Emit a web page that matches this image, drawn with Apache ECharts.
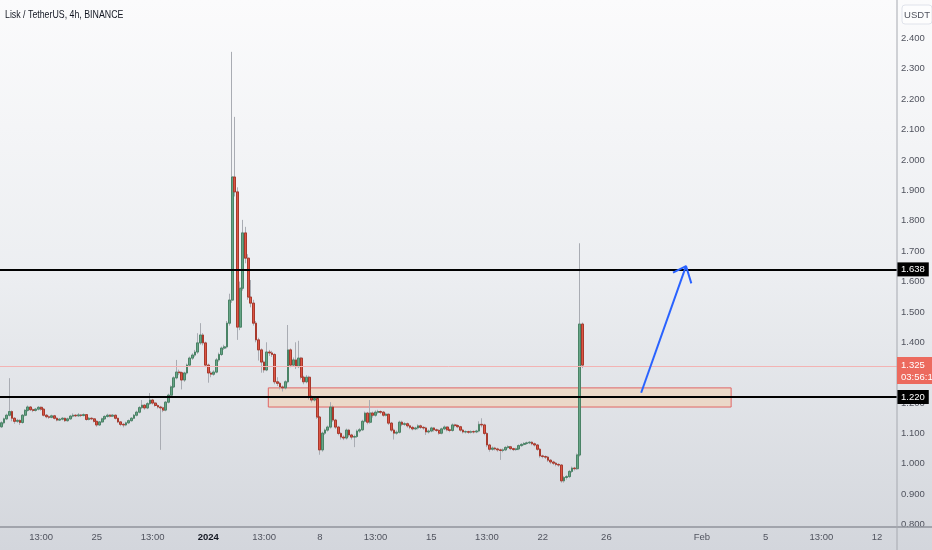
<!DOCTYPE html>
<html><head><meta charset="utf-8">
<script src="https://cdn.jsdelivr.net/npm/echarts@6/dist/echarts.min.js"></script>
<style>html,body{margin:0;padding:0;background:#fff;}#c{width:932px;height:550px;}</style>
</head><body><div id="c"></div>
<script>
// ---------- data ----------
const title = 'Lisk / TetherUS, 4h, BINANCE';
const startTimeUTC = Date.UTC(2023, 11, 19, 0, 0);
const slotCount = 338;            // 4h slots shown on the time axis (incl. empty future)
// [open, close, low, high]
const candles = [
[1.122,1.135,1.118,1.140],[1.135,1.148,1.130,1.152],[1.148,1.160,1.144,1.165],[1.160,1.172,1.156,1.282],
[1.172,1.150,1.140,1.176],[1.150,1.140,1.132,1.154],[1.140,1.143,1.135,1.148],[1.143,1.136,1.128,1.146],
[1.136,1.160,1.132,1.164],[1.160,1.176,1.156,1.180],[1.176,1.187,1.172,1.192],[1.187,1.178,1.174,1.190],
[1.178,1.176,1.170,1.182],[1.176,1.180,1.172,1.184],[1.180,1.186,1.176,1.190],[1.186,1.180,1.175,1.189],
[1.180,1.160,1.156,1.183],[1.160,1.155,1.150,1.164],[1.155,1.153,1.148,1.159],[1.153,1.158,1.150,1.162],
[1.158,1.150,1.146,1.161],[1.150,1.144,1.140,1.153],[1.144,1.147,1.141,1.151],[1.147,1.150,1.143,1.154],
[1.150,1.142,1.138,1.152],[1.142,1.148,1.139,1.152],[1.148,1.157,1.145,1.161],[1.157,1.160,1.153,1.166],
[1.160,1.158,1.154,1.163],[1.158,1.161,1.155,1.167],[1.161,1.159,1.154,1.164],[1.159,1.162,1.156,1.166],
[1.162,1.146,1.142,1.164],[1.146,1.150,1.143,1.154],[1.150,1.148,1.144,1.153],[1.148,1.140,1.136,1.151],
[1.140,1.128,1.122,1.142],[1.128,1.138,1.125,1.141],[1.138,1.148,1.135,1.152],[1.148,1.156,1.145,1.160],
[1.156,1.160,1.152,1.165],[1.160,1.157,1.153,1.163],[1.157,1.160,1.154,1.164],[1.160,1.150,1.146,1.162],
[1.150,1.138,1.134,1.152],[1.138,1.130,1.124,1.140],[1.130,1.128,1.120,1.134],[1.128,1.135,1.124,1.139],
[1.135,1.142,1.131,1.146],[1.142,1.150,1.139,1.154],[1.150,1.160,1.147,1.164],[1.160,1.170,1.156,1.175],
[1.170,1.185,1.166,1.190],[1.185,1.193,1.180,1.210],[1.193,1.184,1.178,1.196],[1.184,1.198,1.180,1.203],
[1.198,1.210,1.194,1.233],[1.210,1.200,1.195,1.214],[1.200,1.192,1.188,1.204],[1.192,1.187,1.182,1.196],
[1.187,1.184,1.046,1.191],[1.184,1.177,1.170,1.188],[1.177,1.203,1.173,1.207],[1.203,1.226,1.199,1.231],
[1.226,1.253,1.222,1.258],[1.253,1.283,1.249,1.288],[1.283,1.302,1.278,1.342],[1.302,1.300,1.292,1.310],
[1.300,1.276,1.245,1.304],[1.276,1.299,1.270,1.303],[1.299,1.325,1.294,1.330],[1.325,1.348,1.320,1.353],
[1.348,1.358,1.342,1.364],[1.358,1.368,1.352,1.375],[1.368,1.398,1.362,1.430],[1.398,1.424,1.392,1.463],
[1.424,1.398,1.390,1.430],[1.398,1.325,1.318,1.402],[1.325,1.299,1.267,1.330],[1.299,1.295,1.285,1.305],
[1.295,1.302,1.290,1.308],[1.302,1.342,1.298,1.348],[1.342,1.360,1.336,1.366],[1.360,1.381,1.355,1.386],
[1.381,1.385,1.375,1.392],[1.385,1.463,1.380,1.470],[1.463,1.539,1.455,1.560],[1.539,1.944,1.530,2.356],
[1.944,1.895,1.880,2.142],[1.895,1.450,1.408,1.910],[1.450,1.578,1.440,1.600],[1.578,1.760,1.570,1.803],
[1.760,1.677,1.660,1.780],[1.677,1.549,1.540,1.690],[1.549,1.529,1.515,1.605],[1.529,1.463,1.455,1.540],
[1.463,1.408,1.400,1.470],[1.408,1.375,1.340,1.415],[1.375,1.335,1.300,1.380],[1.335,1.309,1.300,1.340],
[1.309,1.368,1.305,1.400],[1.368,1.365,1.355,1.375],[1.365,1.360,1.352,1.372],[1.360,1.270,1.262,1.364],
[1.270,1.265,1.256,1.285],[1.265,1.253,1.245,1.270],[1.253,1.250,1.238,1.258],[1.250,1.270,1.245,1.275],
[1.270,1.375,1.265,1.457],[1.375,1.325,1.318,1.380],[1.325,1.342,1.320,1.350],[1.342,1.320,1.312,1.400],
[1.320,1.348,1.315,1.405],[1.348,1.285,1.278,1.352],[1.285,1.270,1.262,1.290],[1.270,1.285,1.265,1.292],
[1.285,1.220,1.212,1.290],[1.220,1.210,1.202,1.226],[1.210,1.215,1.205,1.220],[1.215,1.154,1.148,1.218],
[1.154,1.046,1.030,1.158],[1.046,1.101,1.040,1.106],[1.101,1.111,1.095,1.116],[1.111,1.121,1.106,1.126],
[1.121,1.187,1.116,1.203],[1.187,1.144,1.138,1.192],[1.144,1.121,1.115,1.148],[1.121,1.100,1.094,1.125],
[1.100,1.088,1.080,1.104],[1.088,1.085,1.078,1.094],[1.085,1.111,1.080,1.116],[1.111,1.095,1.088,1.115],
[1.095,1.088,1.080,1.099],[1.088,1.090,1.055,1.096],[1.090,1.108,1.085,1.113],[1.108,1.112,1.102,1.118],
[1.112,1.140,1.108,1.145],[1.140,1.167,1.136,1.172],[1.167,1.137,1.130,1.171],[1.137,1.167,1.132,1.210],
[1.167,1.160,1.152,1.172],[1.160,1.170,1.155,1.176],[1.170,1.172,1.165,1.178],[1.172,1.170,1.164,1.176],
[1.170,1.160,1.155,1.174],[1.160,1.163,1.156,1.168],[1.163,1.134,1.128,1.166],[1.134,1.111,1.105,1.138],
[1.111,1.101,1.080,1.116],[1.101,1.104,1.096,1.110],[1.104,1.137,1.100,1.142],[1.137,1.130,1.124,1.142],
[1.130,1.132,1.125,1.137],[1.132,1.125,1.119,1.136],[1.125,1.120,1.114,1.129],[1.120,1.115,1.110,1.125],
[1.115,1.118,1.111,1.122],[1.118,1.125,1.113,1.130],[1.125,1.120,1.115,1.129],[1.120,1.118,1.112,1.124],
[1.118,1.105,1.095,1.122],[1.105,1.108,1.100,1.113],[1.108,1.118,1.104,1.122],[1.118,1.112,1.106,1.121],
[1.112,1.110,1.105,1.116],[1.110,1.101,1.096,1.114],[1.101,1.115,1.097,1.119],[1.115,1.121,1.111,1.126],
[1.121,1.112,1.107,1.124],[1.112,1.110,1.104,1.116],[1.110,1.128,1.106,1.133],[1.128,1.126,1.120,1.132],
[1.126,1.122,1.117,1.130],[1.122,1.111,1.106,1.125],[1.111,1.105,1.100,1.115],[1.105,1.106,1.100,1.110],
[1.106,1.104,1.099,1.109],[1.104,1.106,1.100,1.110],[1.106,1.105,1.100,1.110],[1.105,1.108,1.101,1.112],
[1.108,1.130,1.104,1.140],[1.130,1.128,1.120,1.150],[1.128,1.100,1.094,1.132],[1.100,1.062,1.055,1.104],
[1.062,1.048,1.040,1.066],[1.048,1.052,1.043,1.057],[1.052,1.049,1.044,1.056],[1.049,1.046,1.040,1.053],
[1.046,1.044,1.013,1.050],[1.044,1.046,1.038,1.051],[1.046,1.054,1.042,1.058],[1.054,1.056,1.050,1.061],
[1.056,1.050,1.045,1.059],[1.050,1.047,1.042,1.053],[1.047,1.049,1.043,1.053],[1.049,1.060,1.045,1.064],
[1.060,1.064,1.056,1.068],[1.064,1.067,1.060,1.071],[1.067,1.069,1.063,1.073],[1.069,1.071,1.065,1.075],
[1.071,1.066,1.061,1.074],[1.066,1.062,1.057,1.070],[1.062,1.048,1.043,1.065],[1.048,1.026,1.020,1.052],
[1.026,1.024,1.018,1.030],[1.024,1.022,1.016,1.028],[1.022,1.012,1.006,1.026],[1.012,1.006,0.999,1.016],
[1.006,1.002,0.996,1.010],[1.002,0.998,0.992,1.006],[0.998,0.996,0.990,1.002],[0.996,0.944,0.938,0.999],
[0.944,0.955,0.938,0.960],[0.955,0.958,0.948,0.963],[0.958,0.975,0.953,0.980],[0.975,0.986,0.970,0.991],
[0.986,0.984,0.978,0.990],[0.984,1.029,0.980,1.034],[1.029,1.460,1.024,1.726],[1.460,1.325,1.315,1.465]
];
const timeTickIndex = [15, 36, 57, 78, 99, 120, 141, 162, 183, 204, 228, 264, 288, 309, 330];
const timeTickText  = ['13:00','25','13:00','2024','13:00','8','13:00','15','13:00','22','26','Feb','5','13:00','12'];
const priceMin = 0.8, priceMax = 2.5, priceStep = 0.1;
const levelLines = [1.638, 1.220];
const lastPrice = 1.325;
const lastPriceCountdown = '03:56:19';
const zoneIndex = [100.6, 275];
const zonePrice = [1.187, 1.250];
const arrowIndex = [241.1, 258.0];
const arrowPrice = [1.234, 1.651];
const arrowHeadIndex = [253.1, 258.0, 260.0];
const arrowHeadPrice = [1.629, 1.651, 1.594];

// ---------- build ----------
const FONT = "'Liberation Sans',Arial,sans-serif";
const categories = [];
for (let i = 0; i < slotCount; i++) {
  categories.push(new Date(startTimeUTC + i * 4 * 3600 * 1000).toISOString());
}
const bodies = candles.map(c => [c[0], c[1], Math.min(c[0], c[1]), Math.max(c[0], c[1])]);

const chart = echarts.init(document.getElementById('c'), null, {renderer: 'canvas'});
const option = {
  animation: false,
  backgroundColor: {
    type: 'linear', x: 0, y: 0, x2: 0, y2: 1,
    colorStops: [{offset: 0, color: '#fbfbfc'}, {offset: 0.5, color: '#eceef1'}, {offset: 1, color: '#d3d6dc'}]
  },
  grid: {left: -2, right: 35, top: 8.1, bottom: 25.4, containLabel: false},
  xAxis: [{
    type: 'category', data: categories, boundaryGap: true,
    axisLine: {show: false}, axisTick: {show: false}, splitLine: {show: false},
    axisLabel: {
      interval: (idx) => timeTickIndex.indexOf(idx) >= 0,
      formatter: (val, idx) => {
        const k = timeTickIndex.indexOf(idx);
        if (k < 0) return '';
        const t = timeTickText[k];
        return t === '2024' ? '{b|' + t + '}' : t;
      },
      color: '#50535e', fontSize: 9.5, fontFamily: FONT, margin: 8,
      rich: {b: {fontFamily: FONT, fontSize: 9.5, color: '#131722', fontWeight: 'bold'}}
    }
  }, {
    type: 'value', min: -0.5, max: slotCount - 0.5, show: false
  }],
  yAxis: {
    type: 'value', position: 'right', min: priceMin, max: priceMax, interval: priceStep,
    axisLine: {show: false}, axisTick: {show: false}, splitLine: {show: false},
    axisLabel: {
      formatter: v => v > 2.45 ? '' : v.toFixed(3),
      color: '#50535e', fontSize: 9.5, fontFamily: FONT, margin: 4
    }
  },
  series: [{
    name: 'wicks', type: 'candlestick', data: candles, barWidth: 2.3,
    itemStyle: {color: 'transparent', color0: 'transparent', borderColor: '#a9acb3', borderColor0: '#a9acb3', borderWidth: 1},
    z: 2
  }, {
    name: 'bodies', type: 'candlestick', data: bodies, barWidth: 2.3,
    itemStyle: {color: '#66a586', color0: '#dc5544', borderColor: '#4a8366', borderColor0: '#a8392c', borderWidth: 1},
    z: 3
  }, {
    name: 'annotations', type: 'line', xAxisIndex: 1, data: [], z: 1,
    markArea: {
      silent: true,
      itemStyle: {color: 'rgba(246,205,170,0.5)', borderColor: '#e06666', borderWidth: 1},
      data: [[{xAxis: zoneIndex[0], yAxis: zonePrice[1]}, {xAxis: zoneIndex[1], yAxis: zonePrice[0]}]]
    },
    markLine: {
      silent: true, symbol: 'none',
      data: [
        {yAxis: lastPrice, lineStyle: {color: '#f3b3b3', width: 1, type: 'solid'}, label: {show: false}},
        ...levelLines.map(v => ({
          yAxis: v, lineStyle: {color: '#000', width: 2, type: 'solid'},
          label: {show: true, position: 'end', distance: 0, formatter: v.toFixed(3),
                  color: '#fff', backgroundColor: '#000', padding: [2, 4, 2, 4],
                  fontFamily: FONT, fontSize: 9.5}
        }))
      ]
    }
  }, {
    name: 'arrow', type: 'line', xAxisIndex: 1, symbol: 'none', z: 5,
    data: arrowIndex.map((x, k) => [x, arrowPrice[k]]),
    lineStyle: {color: '#2962ff', width: 2}
  }, {
    name: 'arrowHead', type: 'line', xAxisIndex: 1, symbol: 'none', z: 5,
    data: arrowHeadIndex.map((x, k) => [x, arrowHeadPrice[k]]),
    lineStyle: {color: '#2962ff', width: 2}
  }]
};
chart.setOption(option);

// overlay pieces positioned through the chart's own scales
const yLast = chart.convertToPixel({yAxisIndex: 0}, lastPrice);
const axisX = chart.convertToPixel({xAxisIndex: 1}, slotCount - 0.5);
chart.setOption({
  graphic: [
    {type: 'text', x: 5, y: 15, scaleX: 0.8, style: {text: title, fill: '#131722', font: "11px " + FONT, verticalAlign: 'middle'}, z: 11},
    {type: 'line', shape: {x1: 0, y1: 527, x2: 932, y2: 527}, style: {stroke: '#8f939b', lineWidth: 1.5}, z: 10},
    {type: 'line', shape: {x1: axisX, y1: 0, x2: axisX, y2: 550}, style: {stroke: '#a6a9b0', lineWidth: 1}, z: 10},
    {type: 'rect', shape: {x: axisX + 5, y: 5, width: 30, height: 19, r: 3},
     style: {fill: 'rgba(255,255,255,0.6)', stroke: '#e0e3eb', lineWidth: 1}, z: 10},
    {type: 'text', x: axisX + 20, y: 15, style: {text: 'USDT', fill: '#50535e', font: "9.5px " + FONT, align: 'center', verticalAlign: 'middle'}, z: 11},
    {type: 'rect', shape: {x: axisX, y: yLast - 8, width: 932 - axisX, height: 27},
     style: {fill: '#ec6a5e'}, z: 10},
    {type: 'text', x: axisX + 4, y: yLast, style: {text: lastPrice.toFixed(3), fill: '#fff', font: "9.5px " + FONT, verticalAlign: 'middle'}, z: 11},
    {type: 'text', x: axisX + 4, y: yLast + 12, style: {text: lastPriceCountdown, fill: '#fff', font: "9.5px " + FONT, verticalAlign: 'middle'}, z: 11}
  ]
});
</script>
</body></html>
